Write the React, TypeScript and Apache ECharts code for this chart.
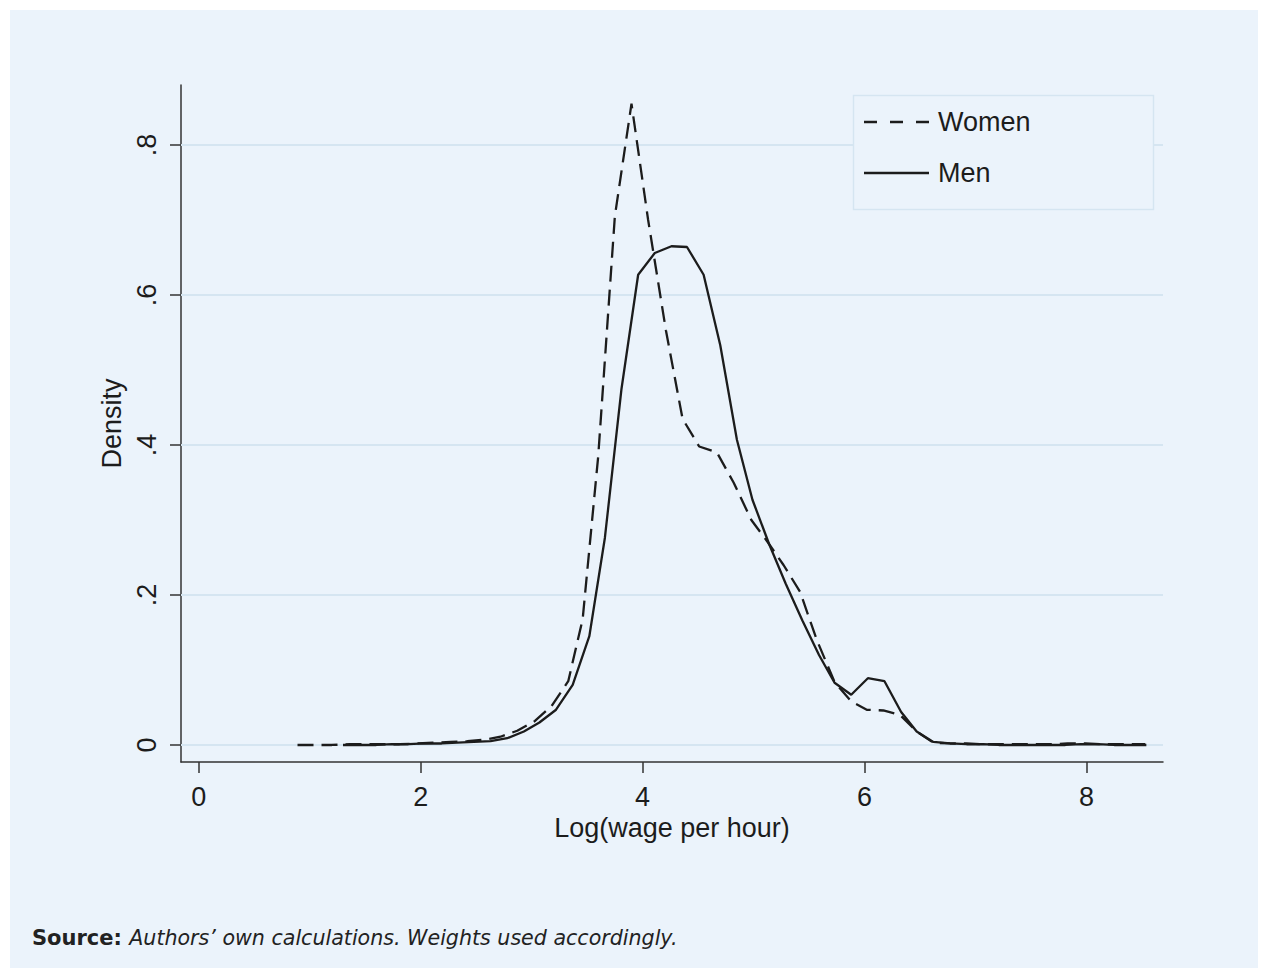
import React, { useEffect, useRef } from "react";
import * as echarts from "echarts";

const womenX = [0.89, 1.05, 1.20, 1.36, 1.51, 1.66, 1.81, 1.96, 2.12, 2.27, 2.42, 2.57, 2.72, 2.87, 3.03, 3.18, 3.33, 3.46, 3.60, 3.75, 3.90, 4.05, 4.21, 4.36, 4.51, 4.67, 4.82, 4.98, 5.13, 5.27, 5.42, 5.57, 5.73, 5.88, 6.02, 6.17, 6.32, 6.47, 6.62, 6.77, 6.92, 7.07, 7.22, 7.38, 7.53, 7.68, 7.83, 7.99, 8.14, 8.29, 8.53];
const womenY = [0.000, 0.000, 0.000, 0.001, 0.001, 0.001, 0.001, 0.002, 0.003, 0.004, 0.005, 0.007, 0.011, 0.019, 0.032, 0.052, 0.085, 0.168, 0.385, 0.705, 0.855, 0.700, 0.553, 0.435, 0.398, 0.390, 0.350, 0.300, 0.270, 0.240, 0.204, 0.140, 0.084, 0.058, 0.047, 0.046, 0.040, 0.018, 0.003, 0.002, 0.002, 0.001, 0.001, 0.001, 0.001, 0.001, 0.002, 0.002, 0.001, 0.001, 0.001];

const menX = [1.30, 1.45, 1.60, 1.74, 1.89, 2.04, 2.19, 2.33, 2.48, 2.63, 2.78, 2.93, 3.07, 3.22, 3.37, 3.52, 3.66, 3.81, 3.96, 4.11, 4.26, 4.40, 4.55, 4.70, 4.85, 4.99, 5.14, 5.29, 5.44, 5.59, 5.73, 5.88, 6.03, 6.18, 6.33, 6.47, 6.62, 6.77, 6.92, 7.07, 7.21, 7.36, 7.51, 7.66, 7.81, 7.95, 8.10, 8.25, 8.40, 8.54];
const menY = [0.000, 0.000, 0.000, 0.001, 0.001, 0.002, 0.002, 0.003, 0.004, 0.005, 0.009, 0.018, 0.030, 0.047, 0.080, 0.145, 0.276, 0.475, 0.627, 0.656, 0.665, 0.664, 0.627, 0.533, 0.407, 0.327, 0.268, 0.215, 0.166, 0.120, 0.083, 0.067, 0.089, 0.085, 0.044, 0.018, 0.004, 0.002, 0.001, 0.001, 0.000, 0.000, 0.000, 0.000, 0.000, 0.001, 0.001, 0.000, 0.000, 0.000];

const xTicks = [0, 2, 4, 6, 8];
const yTicks = [0, 0.2, 0.4, 0.6, 0.8];
const yTickLabels = ["0", ".2", ".4", ".6", ".8"];
const seriesNames = ["Women", "Men"];

const INK = "#1c1c1c";
const PANEL = "#ebf3fb";
const GRIDC = "#d5e5f1";
const FONT = "'Liberation Sans', Arial, Helvetica, sans-serif";
const WOMEN_DASH = [16, 8];

export default function App() {
  const ref = useRef<HTMLDivElement>(null);
  useEffect(() => {
    if (!ref.current) return;
    const chart = echarts.init(ref.current, null, { renderer: "svg" });
    const women = womenX.map((x, i) => [x, womenY[i]]);
    const men = menX.map((x, i) => [x, menY[i]]);
    const legendRows = [
      { name: seriesNames[0], y: 122, dash: [13, 13] as number[] | null },
      { name: seriesNames[1], y: 173, dash: null },
    ];
    const legendEls: any[] = [];
    legendRows.forEach((r) => {
      legendEls.push({
        type: "line",
        z: 10,
        shape: { x1: 864, y1: r.y, x2: 929, y2: r.y },
        style: { stroke: INK, lineWidth: 2.3, lineDash: r.dash || undefined },
      });
      legendEls.push({
        type: "text",
        z: 10,
        x: 938,
        y: r.y,
        style: { text: r.name, fontSize: 27, fontFamily: FONT, fill: INK, verticalAlign: "middle", align: "left" },
      });
    });
    chart.setOption({
      animation: false,
      backgroundColor: "#ffffff",
      textStyle: { fontFamily: FONT, color: INK },
      graphic: [
        { type: "rect", z: -10, shape: { x: 10, y: 10, width: 1248, height: 958 }, style: { fill: PANEL } },
        { type: "rect", z: 5, shape: { x: 853.5, y: 95.5, width: 300, height: 114 }, style: { fill: PANEL, stroke: GRIDC, lineWidth: 1.5 } },
        ...legendEls,
        {
          type: "text",
          left: 32,
          top: 927,
          style: {
            text: "{b|Source: }{i|Authors\u2019 own calculations. Weights used accordingly.}",
            rich: {
              b: { fontFamily: "'DejaVu Sans', sans-serif", fontWeight: "bold", fontSize: 21, fill: "#222" },
              i: { fontFamily: "'DejaVu Sans', sans-serif", fontStyle: "italic", fontSize: 20.6, fill: "#222" },
            },
          },
        },
      ],
      grid: { left: 181, right: 105, top: 85, bottom: 208, containLabel: false },
      xAxis: {
        type: "value",
        min: -0.16,
        max: 8.69,
        name: "Log(wage per hour)",
        nameLocation: "middle",
        nameGap: 46,
        nameTextStyle: { fontSize: 27, color: INK, fontFamily: FONT },
        axisLine: { show: true, onZero: false, lineStyle: { color: "#333", width: 1.5 } },
        axisTick: { show: true, length: 11, customValues: xTicks, lineStyle: { color: "#333", width: 1.5 } },
        axisLabel: { customValues: xTicks, margin: 21, fontSize: 27, color: INK, fontFamily: FONT },
        splitLine: { show: false },
      },
      yAxis: {
        type: "value",
        min: -0.0227,
        max: 0.88,
        name: "Density",
        nameLocation: "middle",
        nameGap: 41,
        nameTextStyle: { fontSize: 27, color: INK, fontFamily: FONT },
        axisLine: { show: true, onZero: false, lineStyle: { color: "#333", width: 1.5 } },
        axisTick: { show: true, length: 11, customValues: yTicks, lineStyle: { color: "#333", width: 1.5 } },
        axisLabel: {
          customValues: yTicks,
          rotate: 90,
          margin: 21,
          fontSize: 27,
          color: INK,
          fontFamily: FONT,
          formatter: (v: number) => {
            const idx = yTicks.findIndex((t) => Math.abs(t - v) < 1e-6);
            return idx >= 0 ? yTickLabels[idx] : "";
          },
        },
        splitLine: { show: false },
      },
      series: [
        {
          name: seriesNames[0],
          type: "line",
          data: women,
          symbol: "none",
          z: 3,
          lineStyle: { color: INK, width: 2.3, type: WOMEN_DASH },
          itemStyle: { color: INK },
          markLine: {
            silent: true,
            symbol: "none",
            label: { show: false },
            z: 1,
            lineStyle: { color: GRIDC, width: 2, type: "solid" },
            data: yTicks.map((t) => ({ yAxis: t })),
          },
        },
        {
          name: seriesNames[1],
          type: "line",
          data: men,
          symbol: "none",
          z: 3,
          lineStyle: { color: INK, width: 2.3, type: "solid" },
          itemStyle: { color: INK },
        },
      ],
    });
    return () => chart.dispose();
  }, []);
  return (
    <div style={{ position: "fixed", left: 0, top: 0, width: 1268, height: 970, background: "#fff" }}>
      <div ref={ref} style={{ width: 1268, height: 970 }} />
    </div>
  );
}
